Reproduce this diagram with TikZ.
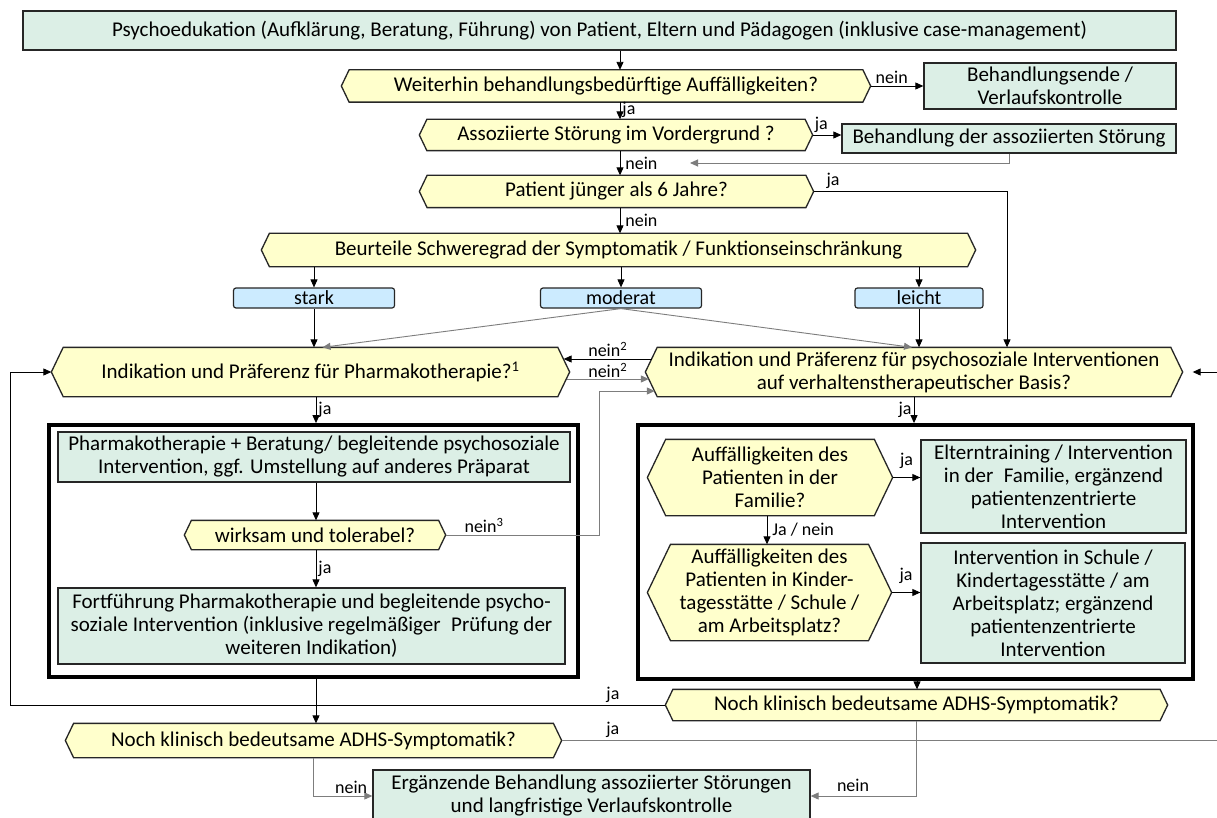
\documentclass[tikz,border=0pt]{standalone}
\usepackage{fontspec}
\setmainfont{Carlito}
\usetikzlibrary{arrows.meta,calc}
\definecolor{actG}{RGB}{220,239,230}
\definecolor{decY}{RGB}{255,255,204}
\definecolor{levB}{RGB}{204,235,255}
\definecolor{bord}{RGB}{38,38,38}
\definecolor{lgray}{RGB}{125,125,125}
\newcommand\mainfs{\fontsize{21}{23}\selectfont}
\newcommand\levfs{\fontsize{20}{21}\selectfont}
\newcommand\lblfs{\fontsize{18}{20}\selectfont}
\makeatletter
\newdimen\hxA \newdimen\hxB \newdimen\hyA \newdimen\hyB
\newdimen\hyM \newdimen\hxL \newdimen\hxR \newdimen\hexd
\pgfdeclareshape{hexbox}{%
  \inheritsavedanchors[from=rectangle]%
  \inheritanchorborder[from=rectangle]%
  \inheritanchor[from=rectangle]{center}%
  \inheritanchor[from=rectangle]{north}%
  \inheritanchor[from=rectangle]{south}%
  \inheritanchor[from=rectangle]{east}%
  \inheritanchor[from=rectangle]{west}%
  \inheritanchor[from=rectangle]{north east}%
  \inheritanchor[from=rectangle]{north west}%
  \inheritanchor[from=rectangle]{south east}%
  \inheritanchor[from=rectangle]{south west}%
  \inheritanchor[from=rectangle]{base}%
  \inheritanchor[from=rectangle]{mid}%
  \backgroundpath{%
    \southwest \hxA=\pgf@x \hyA=\pgf@y
    \northeast \hxB=\pgf@x \hyB=\pgf@y
    \hyM=\hyA \advance\hyM by \hyB \hyM=.5\hyM
    \hexd=\hyB \advance\hexd by -\hyA \hexd=.24\hexd
    \hxL=\hxA \advance\hxL by \hexd
    \hxR=\hxB \advance\hxR by -\hexd
    \pgfpathmoveto{\pgfqpoint{\hxA}{\hyM}}%
    \pgfpathlineto{\pgfqpoint{\hxL}{\hyB}}%
    \pgfpathlineto{\pgfqpoint{\hxR}{\hyB}}%
    \pgfpathlineto{\pgfqpoint{\hxB}{\hyM}}%
    \pgfpathlineto{\pgfqpoint{\hxR}{\hyA}}%
    \pgfpathlineto{\pgfqpoint{\hxL}{\hyA}}%
    \pgfpathclose
  }%
}
\makeatother
\tikzset{
  dec/.style={shape=hexbox, draw=bord, line width=1.3pt, fill=decY, align=center, inner sep=0pt, font=\mainfs},
  act/.style={rectangle, draw=bord, line width=1.3pt, fill=actG, align=center, inner sep=0pt, font=\mainfs},
  lev/.style={rectangle, rounded corners=2.5pt, draw=bord, line width=1.2pt, fill=levB, inner sep=0pt, font=\levfs},
  frame/.style={rectangle, draw=black, line width=3.8pt, inner sep=0pt},
  arr/.style={-{Triangle[length=8pt,width=7pt]}, line width=0.9pt, draw=black},
  garr/.style={-{Triangle[length=8pt,width=7pt]}, line width=0.9pt, draw=lgray},
  gline/.style={line width=0.9pt, draw=lgray},
  lbl/.style={font=\lblfs, inner sep=2pt, text=black},
}
\begin{document}
\begin{tikzpicture}[x=1pt,y=-1pt]
\useasboundingbox (0,0) rectangle (1217,818);
\fill[white] (0,0) rectangle (1217,818);
% frames
\node[frame, minimum width=529pt, minimum height=252pt] (lframe) at (313.5,551) {};
\node[frame, minimum width=555pt, minimum height=254pt] (rframe) at (915.5,552) {};
% nodes
\node[act, minimum width=1153pt, minimum height=39pt] (top) at (599.5,30.5) {Psychoedukation (Aufklärung, Beratung, Führung) von Patient, Eltern und Pädagogen (inklusive case-management)};
\node[dec, minimum width=528pt, minimum height=31pt] (hA) at (606,86) {Weiterhin behandlungsbedürftige Auffälligkeiten?};
\node[act, minimum width=252pt, minimum height=46pt] (ende) at (1050,86) {Behandlungsende /\\Verlaufskontrolle};
\node[dec, minimum width=392pt, minimum height=30pt] (hB) at (616,135) {Assoziierte Störung im Vordergrund ?};
\node[act, minimum width=334pt, minimum height=29pt] (behand) at (1009,138.5) {Behandlung der assoziierten Störung};
\node[dec, minimum width=393pt, minimum height=31pt] (hC) at (616.5,191.5) {Patient jünger als 6 Jahre?};
\node[dec, minimum width=713pt, minimum height=32pt] (hD) at (618.5,250) {Beurteile Schweregrad der Symptomatik / Funktionseinschränkung};
\node[lev, minimum width=161pt, minimum height=20pt] (stark) at (314,298) {stark};
\node[lev, minimum width=161pt, minimum height=20pt] (moderat) at (621,298) {moderat};
\node[lev, minimum width=128pt, minimum height=20pt] (leicht) at (919,298) {leicht};
\node[dec, minimum width=517pt, minimum height=48pt] (pharma) at (310.5,372) {Indikation und Präferenz für Pharmakotherapie?\textsuperscript{1}};
\node[dec, minimum width=536pt, minimum height=48pt] (psy) at (914,372) {Indikation und Präferenz für psychosoziale Interventionen\\auf verhaltenstherapeutischer Basis?};
\node[act, minimum width=512pt, minimum height=50pt] (pbox) at (314,457) {Pharmakotherapie + Beratung/ begleitende psychosoziale\\Intervention, ggf. Umstellung auf anderes Präparat};
\node[dec, minimum width=260pt, minimum height=28pt] (wirk) at (315,535) {wirksam und tolerabel?};
\node[act, minimum width=507pt, minimum height=76pt] (fort) at (311.5,626) {Fortführung Pharmakotherapie und begleitende psycho-\\soziale Intervention (inklusive regelmäßiger\enspace Prüfung der\\weiteren Indikation)};
\node[dec, minimum width=244pt, minimum height=75pt] (fam) at (770,477.5) {Auffälligkeiten des\\Patienten in der\\Familie?};
\node[act, minimum width=265pt, minimum height=93pt] (eltern) at (1053.5,486.5) {Elterntraining / Intervention\\in der\enspace Familie, ergänzend\\patientenzentrierte\\Intervention};
\node[dec, minimum width=243pt, minimum height=95pt] (kind) at (769.5,592.5) {Auffälligkeiten des\\Patienten in Kinder-\\tagesstätte / Schule /\\am Arbeitsplatz?};
\node[act, minimum width=264pt, minimum height=120pt] (schule) at (1053,603) {Intervention in Schule /\\Kindertagesstätte / am\\Arbeitsplatz; ergänzend\\patientenzentrierte\\Intervention};
\node[dec, minimum width=501pt, minimum height=30pt] (nochR) at (916.5,705) {Noch klinisch bedeutsame ADHS-Symptomatik?};
\node[dec, minimum width=495pt, minimum height=33pt] (nochL) at (313.5,740.5) {Noch klinisch bedeutsame ADHS-Symptomatik?};
\node[act, minimum width=437pt, minimum height=52pt] (bot) at (591.5,796) {Ergänzende Behandlung assoziierter Störungen\\und langfristige Verlaufskontrolle};
% helper coordinates
\coordinate (cx) at (620,0);
\coordinate (ret) at (690,163);
\coordinate (jr) at (1007,0);
\coordinate (c3) at (599,391);
\coordinate (cL) at (316,0);
\coordinate (lp) at (10,0);
\coordinate (cR) at (914,0);
\coordinate (cF) at (767,0);
\coordinate (cR2) at (917,0);
\coordinate (re) at (1217,0);
% connectors
\draw[arr] (top.south -| cx) -- (hA.north -| cx);
\draw[arr] (hA.east) -- node[lbl, above, pos=0.4]{nein} (ende.west);
\draw[arr] (hA.south -| cx) -- node[lbl, right, pos=0.45]{ja} (hB.north -| cx);
\draw[arr] (hB.east) -- node[lbl, above, pos=0.3]{ja} (hB.east -| behand.west);
\draw[garr] (behand.south) |- (ret);
\draw[arr] (hB.south -| cx) -- node[lbl, right, xshift=3pt]{nein} (hC.north -| cx);
\draw[arr] (hC.east) -| node[lbl, above, pos=0.05]{ja} (psy.north -| jr);
\draw[arr] (hC.south -| cx) -- node[lbl, right, xshift=3pt]{nein} (hD.north -| cx);
\draw[arr] (hD.south -| stark.north) -- (stark.north);
\draw[arr] (hD.south -| moderat.north) -- (moderat.north);
\draw[arr] (hD.south -| leicht.north) -- (leicht.north);
\draw[arr] (stark.south) -- (stark.south |- pharma.north);
\draw[garr] (moderat.south) -- ($(pharma.north)+(12,0)$);
\draw[garr] (moderat.south) -- ($(psy.north)+(-2,0)$);
\draw[arr] (leicht.south) -- (leicht.south |- psy.north);
\draw[arr] ($(psy.west)+(6.5,-13)$) -- node[lbl, above]{nein\textsuperscript{2}} ($(pharma.east)+(-6,-13)$);
\draw[garr] ($(pharma.east)+(-3,7)$) -- node[lbl, above, yshift=-1pt]{nein\textsuperscript{2}} ($(psy.west)+(3.5,7)$);
\draw[garr] (wirk.east) -| node[lbl, above, pos=0.125]{nein\textsuperscript{3}} (c3) -- ($(psy.west)+(9.5,19)$);
\draw[arr] (pharma.south -| cL) -- node[lbl, right]{ja} (lframe.north -| cL);
\draw[arr] (pbox.south -| cL) -- (wirk.north -| cL);
\draw[arr] (wirk.south -| cL) -- node[lbl, right]{ja} (fort.north -| cL);
\draw[arr] (lframe.south -| cL) -- (nochL.north -| cL);
\draw[arr] (nochR.west) -- node[lbl, above, pos=0.08]{ja} (nochR.west -| lp) |- (pharma.west);
\draw[arr] (psy.south -| cR) -- node[lbl, left]{ja} (rframe.north -| cR);
\draw[arr] (fam.east) -- node[lbl, above, yshift=6pt]{ja} (fam.east -| eltern.west);
\draw[arr] (fam.south -| cF) -- node[lbl, right, xshift=3pt]{Ja / nein} (kind.north -| cF);
\draw[arr] (kind.east) -- node[lbl, above, yshift=6pt]{ja} (kind.east -| schule.west);
\draw[arr] (rframe.south -| cR2) -- (nochR.north -| cR2);
\draw[garr] (nochR.south) |- node[lbl, above, pos=0.8, yshift=2pt]{nein} (bot.east);
\draw[garr] (nochL.south) |- node[lbl, above, pos=0.82]{nein} (bot.west);
\draw[gline] (nochL.east) -- node[lbl, above, pos=0.078]{ja} (nochL.east -| re);
\draw[arr] (psy.east -| re) -- ($(psy.east)+(10,0)$);
\end{tikzpicture}
\end{document}
